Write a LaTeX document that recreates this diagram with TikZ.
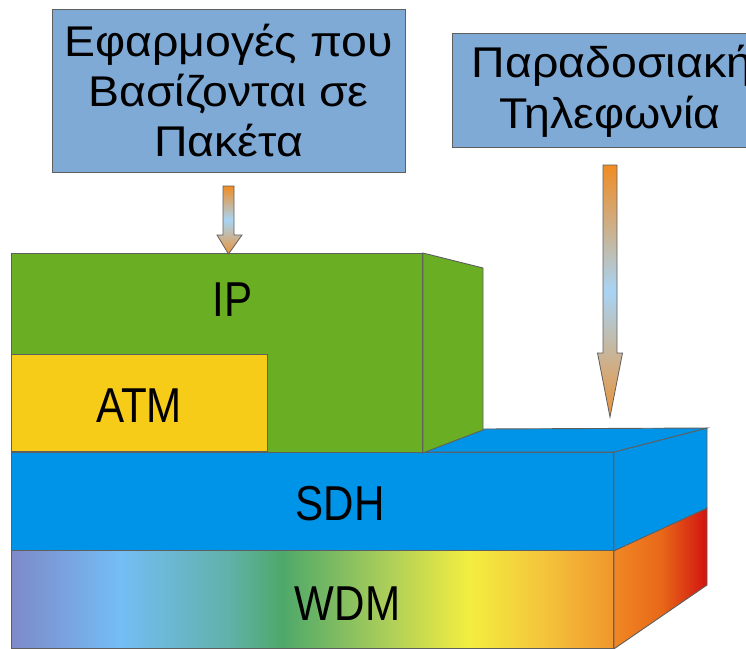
\documentclass[tikz,border=0pt]{standalone}
\usepackage{fontspec}
\setmainfont{Liberation Sans}
\newfontfamily\boxfont{Liberation Sans}[FakeStretch=1.08]
\newfontfamily\layerfont{Liberation Sans}[FakeStretch=0.86]

\definecolor{notebg}{RGB}{128,170,214}
\definecolor{ipgreen}{RGB}{106,175,35}
\definecolor{atmyellow}{RGB}{246,204,25}
\definecolor{sdhblue}{RGB}{0,148,232}
\definecolor{edgegray}{RGB}{95,95,95}
\definecolor{arrowor}{RGB}{240,140,35}
\definecolor{arrowsky}{RGB}{168,212,244}
\definecolor{arrowtan}{RGB}{234,148,58}
% WDM spectrum stops, left to right
\definecolor{w0}{RGB}{126,137,201}
\definecolor{w1}{RGB}{116,189,245}
\definecolor{w2}{RGB}{96,178,170}
\definecolor{w3}{RGB}{78,168,106}
\definecolor{w4}{RGB}{170,205,90}
\definecolor{w5}{RGB}{243,238,64}
\definecolor{w6}{RGB}{244,194,58}
\definecolor{w7}{RGB}{240,150,45}
\definecolor{s0}{RGB}{240,135,35}
\definecolor{s1}{RGB}{232,105,25}
\definecolor{s2}{RGB}{210,20,15}

% the path's box maps onto 25bp..75bp of the shading
\pgfdeclarehorizontalshading{wdmfront}{100bp}{color(0bp)=(w0); color(25bp)=(w0);
  color(34bp)=(w1); color(43bp)=(w2); color(47.5bp)=(w3); color(56bp)=(w4);
  color(63bp)=(w5); color(69.5bp)=(w6); color(75bp)=(w7); color(100bp)=(w7)}

\tikzset{
  face/.style={draw=edgegray, line width=0.9pt, line join=miter},
  notebox/.style={rectangle, fill=notebg, draw=edgegray, line width=0.9pt,
    inner sep=0pt, anchor=north west},
  layerbox/.style={rectangle, face, inner sep=0pt, anchor=north west},
  boxtext/.style={inner sep=0pt, anchor=base, font=\boxfont\fontsize{43}{51}\selectfont},
  layertext/.style={inner sep=0pt, anchor=base, font=\layerfont\fontsize{49}{58}\selectfont},
  blockarrow/.style={draw=edgegray, line width=0.8pt, line join=miter,
    top color=arrowor, bottom color=arrowtan, middle color=arrowsky},
}

\begin{document}
\begin{tikzpicture}[x=1pt, y=-1pt]
\useasboundingbox (0,0) rectangle (746,648);
\fill[white] (0,0) rectangle (746,648);
\clip (0,0) rectangle (746,648);

% ---- WDM layer ----
\node[layerbox, shading=wdmfront, minimum width=602pt, minimum height=98pt] (wdm) at (11,550) {};
\path[face, left color=s0, right color=s2, middle color=s1]
  (wdm.north east) -- (707,508) -- (707,585) -- (wdm.south east) -- cycle;
\node[layertext] (wdmt) at (347.5,620) {WDM};

% ---- SDH layer ----
\node[layerbox, fill=sdhblue, minimum width=602pt, minimum height=98pt] (sdh) at (11,452) {};
\path[face, fill=sdhblue]
  (sdh.north east) -- (707,428) -- (707,508) -- (sdh.south east) -- cycle;
\path[face, fill=sdhblue]
  (422,452) -- (483,429) -- (707,428) -- (sdh.north east) -- cycle;
\node[layertext] (sdht) at (340,520) {SDH};

% ---- IP block ----
\node[layerbox, fill=ipgreen, minimum width=411pt, minimum height=199pt] (ip) at (11,253) {};
\path[face, fill=ipgreen]
  (ip.north east) -- (483,268) -- (483,430) -- (ip.south east) -- cycle;
\node[layertext] (ipt) at (232.5,316) {IP};

% ---- ATM inside IP ----
\node[layerbox, fill=atmyellow, minimum width=256pt, minimum height=97pt] (atm) at (11,354) {};
\node[layertext] (atmt) at (139,422) {ATM};

% ---- packet applications ----
\node[notebox, minimum width=353pt, minimum height=163pt] (pkt) at (52,9) {};
\node[boxtext] (pkt1) at (228.5,56) {Εφαρμογές που};
\node[boxtext] (pkt2) at (228.5,106) {Βασίζονται σε};
\node[boxtext] (pkt3) at (228.5,156) {Πακέτα};

% ---- traditional telephony ----
\node[notebox, minimum width=316pt, minimum height=114pt] (tel) at (452,33) {};
\node[boxtext] (tel1) at (612,77) {Παραδοσιακή};
\node[boxtext] (tel2) at (610,128) {Τηλεφωνία};

% ---- block arrows ----
\coordinate (a1top) at (228.5,186);
\coordinate (a1tip) at (228.5,254);
\path[blockarrow] (a1top) ++(-5.5,0) -- ++(11,0) -- ++(0,49) -- ++(8,0)
  -- (a1tip) -- ++(-11.5,-19) -- ++(6,0) -- cycle;

\coordinate (a2top) at (610,165);
\coordinate (a2tip) at (610,417);
\path[blockarrow] (a2top) ++(-7,0) -- ++(14,0) -- ++(0,188) -- ++(5.5,0)
  -- (a2tip) -- ++(-12.5,-64) -- ++(5.5,0) -- cycle;
\end{tikzpicture}
\end{document}
